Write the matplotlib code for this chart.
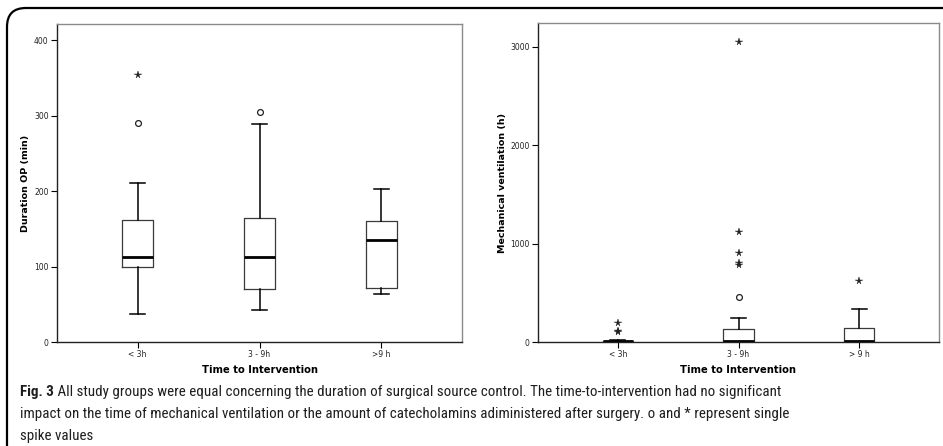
import matplotlib
matplotlib.use("Agg")
import matplotlib.pyplot as plt
from matplotlib import font_manager
from matplotlib.patches import FancyBboxPatch

groups = ["< 3h", "3 - 9h", ">9 h"]
groups_vent = ["< 3h", "3 - 9h", "> 9 h"]

# duration of surgery (min): whisker low, Q1, median, Q3, whisker high
op_low = [37, 42, 64]
op_q1 = [99, 70, 71]
op_med = [112, 113, 135]
op_q3 = [161, 164, 160]
op_high = [210, 289, 203]
op_circles = [[290], [305], []]
op_stars = [[354], [], []]

# mechanical ventilation (h)
vent_low = [0, 0, 0]
vent_q1 = [2, 0, 0]
vent_med = [6, 10, 10]
vent_q3 = [12, 136, 142]
vent_high = [24, 244, 336]
vent_circles = [[], [458], []]
vent_stars = [[99, 110, 193], [780, 805, 905, 1116, 3055], [617]]

caption_bold = "Fig. 3"
caption_lines = [
    " All study groups were equal concerning the duration of surgical source control. The time-to-intervention had no significant",
    "impact on the time of mechanical ventilation or the amount of catecholamins adiministered after surgery. o and * represent single",
    "spike values",
]

# pick a narrow face for the caption if one is around
faces = font_manager.fontManager.ttflist
names = {f.name for f in faces}
cap_stretch = "normal"
cap_font = "Roboto"
for name in ["Liberation Sans Narrow", "Roboto Condensed", "Open Sans Condensed"]:
    if name in names:
        cap_font = name
        break
else:
    if any(f.name == "DejaVu Sans" and f.stretch == "condensed" for f in faces):
        cap_font = "DejaVu Sans"
        cap_stretch = "condensed"

W, H = 943, 446
fig = plt.figure(figsize=(W / 100, H / 100), dpi=100)


def box_panel(rect, lows, q1s, meds, q3s, highs, circles, stars, labels, ymax, yticks,
              ylabel, ypad):
    ax = fig.add_axes(rect)
    stats = []
    for i in range(len(labels)):
        stats.append(dict(whislo=lows[i], q1=q1s[i], med=meds[i], q3=q3s[i],
                          whishi=highs[i], fliers=[]))
    ax.bxp(stats, positions=[1, 2, 3], widths=0.25, showfliers=False,
           boxprops=dict(color="#3a3a3a", linewidth=0.9),
           medianprops=dict(color="black", linewidth=2.0),
           whiskerprops=dict(color="black", linewidth=1.1),
           capprops=dict(color="black", linewidth=1.1),
           capwidths=0.125)
    for i in range(len(labels)):
        if circles[i]:
            ax.plot([i + 1] * len(circles[i]), circles[i], linestyle="none", marker="o",
                    markersize=4.2, markerfacecolor="white", markeredgecolor="#222222",
                    markeredgewidth=0.9)
        if stars[i]:
            ax.plot([i + 1] * len(stars[i]), stars[i], linestyle="none", marker="*",
                    markersize=5.5, color="#222222", markeredgewidth=0.3)
    ax.set_xlim(0.34, 3.66)
    ax.set_ylim(0, ymax)
    ax.set_xticks([1, 2, 3])
    ax.set_xticklabels(labels)
    ax.set_yticks(yticks)
    ax.tick_params(axis="both", labelsize=5.5, length=4, width=0.8, color="black",
                   pad=2, labelcolor="#222222")
    for s in ["top", "right"]:
        ax.spines[s].set_color("#8a8a8a")
        ax.spines[s].set_linewidth(1.0)
    for s in ["left", "bottom"]:
        ax.spines[s].set_color("#222222")
        ax.spines[s].set_linewidth(1.0)
    ax.set_xlabel("Time to Intervention", fontsize=7.2, fontweight="bold", labelpad=4)
    ax.set_ylabel(ylabel, fontsize=6.8, fontweight="bold", labelpad=ypad)
    return ax


box_panel([57 / W, 1 - 342 / H, 405 / W, 318 / H], op_low, op_q1, op_med, op_q3, op_high,
          op_circles, op_stars, groups, 400 * 318 / 302, [0, 100, 200, 300, 400],
          "Duration OP (min)", 3)
box_panel([538 / W, 1 - 342 / H, 401 / W, 319 / H], vent_low, vent_q1, vent_med, vent_q3,
          vent_high, vent_circles, vent_stars, groups_vent, 3000 * 319 / 295,
          [0, 1000, 2000, 3000], "Mechanical ventilation (h)", 2)

# outer frame with rounded top-left corner
frame = FancyBboxPatch((7 / W, -0.2), 1.2, 1 - 8 / H + 0.2,
                       boxstyle="round,pad=0,rounding_size=0.02",
                       transform=fig.transFigure, fill=False, edgecolor="black",
                       linewidth=1.6, mutation_aspect=W / H)
fig.add_artist(frame)

# caption, sized so the first line runs to about x = 785 px
renderer = fig.canvas.get_renderer()
x0 = 20
y0 = 1 - 392 / H
dy = 22 / H
size = 10.5
style = dict(family=cap_font, stretch=cap_stretch, va="center", color="#1e1e1e")
t_bold = fig.text(x0 / W, y0, caption_bold, fontsize=size, fontweight="bold", **style)
t_rest = fig.text(0, y0, caption_lines[0], fontsize=size, **style)
w = t_bold.get_window_extent(renderer).width + t_rest.get_window_extent(renderer).width
size = size * (785 - x0) / w
t_bold.set_fontsize(size)
t_rest.set_fontsize(size)
t_rest.set_x(t_bold.get_window_extent(renderer).x1 / W)
fig.text(x0 / W, y0 - dy, caption_lines[1], fontsize=size, **style)
fig.text(x0 / W, y0 - 2 * dy, caption_lines[2], fontsize=size, **style)

fig.savefig("out.png", dpi=100)
